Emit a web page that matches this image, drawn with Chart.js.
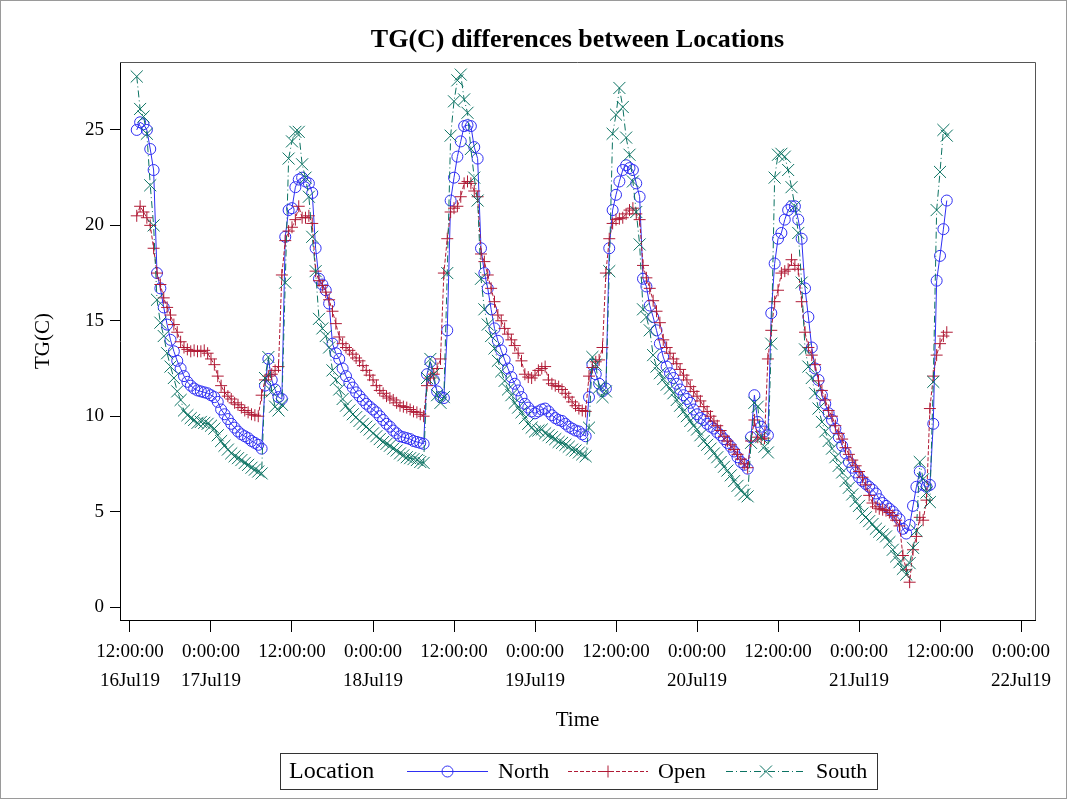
<!DOCTYPE html>
<html>
<head>
<meta charset="utf-8">
<script src="https://cdn.jsdelivr.net/npm/chart.js@4.4.1/dist/chart.umd.min.js"></script>
<style>
  body { margin: 0; background: #fff; }
  canvas { display: block; }
</style>
</head>
<body>
<canvas id="tgChart" width="1068" height="800"></canvas>
<script>
// readings every 30 minutes, first one at 16Jul19 13:00 (hours counted from 16Jul19 0:00)
const startHour = 13;
const stepHours = 0.5;

// TG(C) per location, one line per day (16Jul afternoon ... 21Jul midday)
const north = [
  25.0, 25.4, 25.3, 25.0, 24.0, 22.9, 17.5, 16.7, 15.7, 14.8, 14.0, 13.4, 12.9, 12.5, 12.1, 11.8, 11.6, 11.45, 11.35, 11.3, 11.25, 11.2,
  11.1, 11.0, 10.75, 10.35, 10.1, 9.85, 9.6, 9.4, 9.2, 9.05, 8.95, 8.85, 8.7, 8.6, 8.5, 8.3,
  11.6, 13.0, 11.9, 11.4, 11.0, 10.9, 19.4, 20.8, 20.9, 22.0, 22.4, 22.5, 22.3, 22.2, 21.7, 18.8,
  17.2, 16.9, 16.6, 15.9, 13.8, 13.3, 13.0, 12.5, 12.1, 11.75, 11.5, 11.25, 11.05, 10.85, 10.65, 10.5,
  10.35, 10.2, 10.0, 9.8, 9.6, 9.45, 9.25, 9.1, 8.95, 8.9, 8.85, 8.8, 8.7, 8.65, 8.6, 8.55,
  12.2, 12.85, 11.9, 11.3, 11.0, 10.95, 14.5, 21.3, 22.5, 23.6, 24.4, 25.2, 25.25, 25.2, 24.1, 23.5,
  18.8, 17.5, 16.7, 15.6, 14.6, 13.95, 13.45, 12.95, 12.5, 12.05, 11.7, 11.35, 11.0, 10.65, 10.45, 10.25,
  10.15, 10.25, 10.35, 10.4, 10.25, 10.05, 9.9, 9.8, 9.75, 9.6, 9.45, 9.35, 9.25, 9.2, 9.05, 8.95,
  11.0, 12.7, 12.2, 11.7, 11.3, 11.45, 18.8, 20.8, 21.6, 22.3, 22.9, 23.15, 23.0, 22.9, 22.2, 21.5,
  17.2, 16.8, 15.8, 15.2, 14.5, 13.8, 13.1, 12.6, 12.25, 12.0, 11.7, 11.4, 11.1, 10.9, 10.7, 10.35,
  10.1, 9.9, 9.8, 9.6, 9.45, 9.35, 9.15, 9.0, 8.8, 8.6, 8.4, 8.15, 7.85, 7.6, 7.45, 7.25,
  8.9, 11.1, 9.7, 9.45, 9.2, 9.0, 15.4, 18.0, 19.3, 19.6, 20.3, 20.8, 21.0, 21.0, 20.3, 19.3,
  16.7, 15.2, 13.6, 12.5, 11.9, 11.1, 10.65, 10.15, 9.8, 9.35, 8.9, 8.45, 8.05, 7.6, 7.3, 7.05,
  6.8, 6.6, 6.45, 6.3, 6.15, 5.95, 5.65, 5.45, 5.3, 5.15, 5.0, 4.8, 4.6, 4.1, 3.85, 4.3,
  5.3, 6.3, 7.1, 6.4, 6.3, 6.4, 9.6, 17.1, 18.4, 19.8, 21.3
];

const open = [
  20.5, 21.0, 20.7, 20.4, 20.0, 18.8, 17.5, 16.9, 16.2, 15.7, 15.3, 14.8, 14.4, 13.9, 13.6, 13.5, 13.4, 13.45, 13.4, 13.4, 13.45, 13.3,
  13.0, 12.7, 12.1, 11.6, 11.25, 11.05, 10.9, 10.7, 10.6, 10.45, 10.3, 10.2, 10.1, 10.05, 10.0, 11.1,
  11.9, 12.1, 12.2, 12.4, 12.6, 17.4, 19.2, 19.7, 19.9, 20.3, 21.0, 20.4, 20.4, 20.5, 20.1, 17.6,
  17.1, 16.85, 16.5, 16.1, 15.5, 14.85, 14.15, 13.8, 13.6, 13.45, 13.25, 13.05, 12.9, 12.65, 12.4, 12.15,
  11.9, 11.6, 11.35, 11.2, 11.05, 10.95, 10.85, 10.7, 10.55, 10.5, 10.45, 10.35, 10.25, 10.2, 10.1, 10.0,
  11.6, 12.0, 12.2, 12.5, 13.0, 17.5, 19.3, 20.7, 20.9, 21.0, 21.5, 22.2, 22.3, 22.2, 21.8, 21.5,
  18.5, 18.1, 17.4, 16.7, 16.0, 15.3, 15.0, 14.6, 14.3, 14.0, 13.7, 13.3, 12.9, 12.2, 12.05, 12.0,
  12.15, 12.4, 12.5, 12.6, 11.9, 11.7, 11.6, 11.55, 11.4, 11.2, 11.0, 10.75, 10.55, 10.4, 10.3, 10.25,
  12.1, 12.55, 12.85, 12.95, 13.6, 17.5, 19.3, 20.1, 20.3, 20.35, 20.4, 20.6, 20.8, 20.9, 20.6, 20.3,
  17.9, 17.25, 16.7, 16.05, 15.5, 14.9, 14.0, 13.6, 13.3, 13.0, 12.75, 12.45, 12.15, 11.9, 11.55, 11.3,
  11.05, 10.8, 10.5, 10.25, 10.0, 9.75, 9.5, 9.25, 8.95, 8.7, 8.5, 8.25, 8.0, 7.75, 7.5, 7.3,
  8.7, 9.8, 8.9, 8.8, 8.85, 13.0, 14.5, 16.0, 16.6, 17.5, 17.6, 17.7, 18.2, 17.9, 17.7, 16.0,
  14.4, 13.6, 13.2, 12.7, 11.85, 11.35, 10.85, 10.3, 10.0, 9.5, 9.1, 8.8, 8.35, 8.0, 7.7, 7.4,
  7.1, 6.8, 6.4, 5.85, 5.45, 5.25, 5.15, 5.1, 5.05, 4.95, 4.8, 4.55, 4.25, 2.7, 1.95, 1.3,
  3.0, 3.7, 4.7, 4.55, 5.6, 10.4, 12.1, 13.2, 13.8, 14.2, 14.4
];

const south = [
  27.8, 26.1, 25.7, 24.8, 22.1, 20.0, 16.1, 14.9, 14.2, 13.3, 12.6, 12.0, 11.3, 10.85, 10.3, 10.05, 9.9, 9.8, 9.65, 9.7, 9.65, 9.6,
  9.5, 9.35, 9.0, 8.7, 8.45, 8.25, 8.05, 7.9, 7.8, 7.7, 7.55, 7.45, 7.3, 7.2, 7.1, 7.0,
  12.0, 13.1, 11.3, 10.5, 10.3, 10.6, 17.0, 23.5, 24.4, 24.9, 24.9, 23.2, 22.5, 21.5, 19.4, 17.6,
  15.1, 14.6, 14.2, 13.6, 12.4, 11.9, 11.4, 10.9, 10.55, 10.3, 10.1, 9.95, 9.75, 9.6, 9.45, 9.3,
  9.1, 8.95, 8.8, 8.65, 8.55, 8.45, 8.3, 8.2, 8.05, 7.95, 7.85, 7.8, 7.75, 7.7, 7.6, 7.55,
  12.0, 13.0, 12.2, 11.1, 10.7, 11.0, 17.5, 24.7, 26.5, 27.6, 27.9, 26.6, 25.9, 24.0, 22.5, 21.3,
  17.2, 15.6, 14.8, 14.2, 13.55, 12.9, 12.35, 11.85, 11.4, 11.1, 10.7, 10.45, 10.2, 9.9, 9.6, 9.4,
  9.2, 9.25, 9.3, 9.1, 9.0, 8.9, 8.8, 8.65, 8.6, 8.5, 8.4, 8.25, 8.2, 8.1, 8.0, 7.9,
  9.4, 13.1, 12.7, 11.5, 11.0, 11.3, 17.6, 24.8, 25.8, 27.2, 26.2, 24.6, 23.7, 22.3, 20.7, 19.0,
  15.6, 15.2, 14.5, 13.2, 12.6, 12.25, 11.95, 11.65, 11.45, 11.2, 10.85, 10.55, 10.25, 10.0, 9.75, 9.5,
  9.3, 9.0, 8.7, 8.5, 8.3, 8.05, 7.85, 7.6, 7.35, 7.15, 6.9, 6.6, 6.35, 6.1, 5.9, 5.8,
  8.6, 10.7, 10.5, 8.9, 8.4, 8.1, 13.8, 22.5, 23.7, 23.75, 23.6, 22.9, 22.0, 21.0, 19.6, 17.0,
  13.5, 12.6, 12.0, 11.2, 10.4, 9.7, 9.2, 8.7, 8.3, 7.85, 7.4, 7.05, 6.6, 6.25, 5.9, 5.55,
  5.3, 4.9, 4.7, 4.5, 4.35, 4.1, 3.95, 3.8, 3.7, 3.4, 3.0, 2.65, 2.35, 2.0, 1.7, 2.3,
  3.1, 4.0, 7.6, 6.7, 6.0, 5.5, 11.8, 20.8, 22.8, 25.0, 24.7
];

// axis ticks
const xTickHours = [12, 24, 36, 48, 60, 72, 84, 96, 108, 120, 132, 144];
const xTickTimes = ['12:00:00', '0:00:00', '12:00:00', '0:00:00', '12:00:00', '0:00:00',
                    '12:00:00', '0:00:00', '12:00:00', '0:00:00', '12:00:00', '0:00:00'];
const xTickDates = ['16Jul19', '17Jul19', '', '18Jul19', '', '19Jul19',
                    '', '20Jul19', '', '21Jul19', '', '22Jul19'];
const yTickValues = [0, 5, 10, 15, 20, 25];

const chartTitle = 'TG(C) differences between Locations';
const xTitle = 'Time';
const yTitle = 'TG(C)';
const legendTitle = 'Location';

const serif = "'Liberation Serif', 'Times New Roman', serif";
const blue = '#2F2FF2';
const red = '#B01A35';
const teal = '#0B7262';

Chart.defaults.font.family = serif;
Chart.defaults.color = '#000';

const toPoints = vals => vals.map((v, i) => ({x: startHour + i * stepHours, y: v}));

// title, axis titles, frame and boxed legend
const decorPlugin = {
  id: 'decor',
  afterDraw(chart) {
    const {ctx, chartArea} = chart;
    const {left, right, top, bottom} = chartArea;
    ctx.save();

    ctx.strokeStyle = '#9a9a9a';
    ctx.lineWidth = 1;
    ctx.strokeRect(0.5, 0.5, 1066, 798);

    ctx.strokeStyle = '#555';
    ctx.beginPath();
    ctx.moveTo(left, top + 0.5);
    ctx.lineTo(right + 0.5, top + 0.5);
    ctx.lineTo(right + 0.5, bottom);
    ctx.stroke();

    ctx.fillStyle = '#000';
    ctx.textAlign = 'center';
    ctx.textBaseline = 'middle';
    ctx.font = `bold 26px ${serif}`;
    ctx.fillText(chartTitle, (left + right) / 2, 40);

    ctx.font = `21px ${serif}`;
    ctx.fillText(xTitle, (left + right) / 2, 720);
    ctx.save();
    ctx.translate(43, (top + bottom) / 2);
    ctx.rotate(-Math.PI / 2);
    ctx.fillText(yTitle, 0, 0);
    ctx.restore();

    // legend
    const ly = 771;
    ctx.strokeStyle = '#333';
    ctx.strokeRect(280.5, 753.5, 597, 36);
    ctx.textAlign = 'left';
    ctx.font = `24px ${serif}`;
    ctx.fillText(legendTitle, 289, ly + 1);
    const slots = [[407, 488, 498], [568, 648, 658], [726, 806, 816]];
    ctx.font = `22px ${serif}`;
    chart.data.datasets.forEach((ds, i) => {
      const [x0, x1, tx] = slots[i];
      ctx.save();
      ctx.strokeStyle = ds.borderColor;
      ctx.lineWidth = 1;
      ctx.setLineDash(ds.borderDash || []);
      ctx.beginPath();
      ctx.moveTo(x0, ly + 0.5);
      ctx.lineTo(x1, ly + 0.5);
      ctx.stroke();
      ctx.setLineDash([]);
      ctx.fillStyle = 'rgba(0,0,0,0)';
      Chart.helpers.drawPoint(ctx, {
        pointStyle: ds.pointStyle, radius: ds.pointRadius, borderWidth: 1, rotation: 0
      }, (x0 + x1) / 2, ly + 0.5);
      ctx.restore();
      ctx.fillStyle = '#000';
      ctx.fillText(ds.label, tx, ly + 1);
    });

    ctx.restore();
  }
};

new Chart(document.getElementById('tgChart'), {
  type: 'line',
  data: {
    datasets: [
      {
        label: 'North', data: toPoints(north),
        borderColor: blue, borderWidth: 1,
        pointStyle: 'circle', pointRadius: 5.5, pointBorderWidth: 1,
        pointBorderColor: blue, pointBackgroundColor: 'rgba(0,0,0,0)',
        order: 2
      },
      {
        label: 'Open', data: toPoints(open),
        borderColor: red, borderWidth: 1, borderDash: [4, 2],
        pointStyle: 'cross', pointRadius: 6, pointBorderWidth: 1,
        pointBorderColor: red, pointBackgroundColor: red,
        order: 1
      },
      {
        label: 'South', data: toPoints(south),
        borderColor: teal, borderWidth: 1, borderDash: [7, 3, 1, 3],
        pointStyle: 'crossRot', pointRadius: 8.5, pointBorderWidth: 1,
        pointBorderColor: teal, pointBackgroundColor: teal,
        order: 0
      }
    ]
  },
  options: {
    responsive: false,
    animation: false,
    events: [],
    layout: {padding: {left: 0, top: 62, right: 33, bottom: 100}},
    plugins: {
      legend: {display: false},
      title: {display: false},
      tooltip: {enabled: false}
    },
    scales: {
      x: {
        type: 'linear',
        min: 10.52,
        max: 146.07,
        afterBuildTicks: s => { s.ticks = xTickHours.map(v => ({value: v})); },
        afterFit: s => { s.height = 80; },
        grid: {drawOnChartArea: false, tickLength: 12, color: '#000'},
        border: {color: '#000'},
        ticks: {
          font: {size: 19, lineHeight: 1.5},
          padding: 6,
          maxRotation: 0,
          autoSkip: false,
          callback: (v, i) => xTickDates[i] ? [xTickTimes[i], xTickDates[i]] : xTickTimes[i]
        }
      },
      y: {
        min: -0.68,
        max: 28.56,
        afterBuildTicks: s => { s.ticks = yTickValues.map(v => ({value: v})); },
        afterFit: s => { s.width = 120; },
        grid: {drawOnChartArea: false, tickLength: 10, color: '#000'},
        border: {color: '#000'},
        ticks: {font: {size: 19}, padding: 6}
      }
    }
  },
  plugins: [decorPlugin]
});
</script>
</body>
</html>
